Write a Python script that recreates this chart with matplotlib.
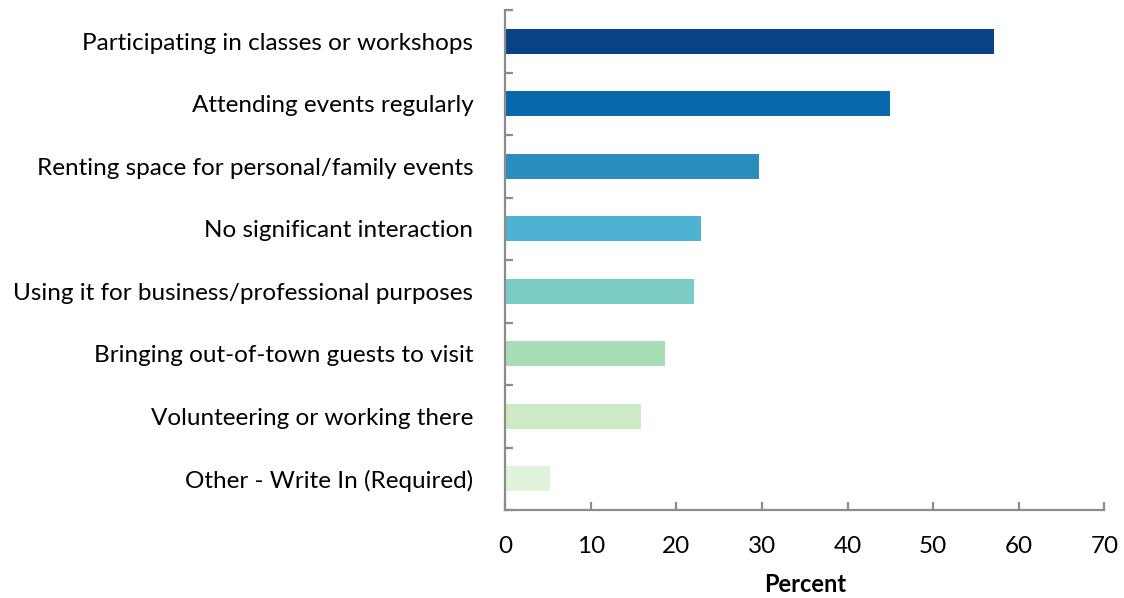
import matplotlib
matplotlib.use("Agg")
import matplotlib.pyplot as plt

categories = [
    "Participating in classes or workshops",
    "Attending events regularly",
    "Renting space for personal/family events",
    "No significant interaction",
    "Using it for business/professional purposes",
    "Bringing out-of-town guests to visit",
    "Volunteering or working there",
    "Other - Write In (Required)",
]
values = [57.1, 45.0, 29.6, 22.9, 22.0, 18.7, 15.9, 5.2]
colors = ["#0A4283", "#0868AC", "#2B8CBE", "#4EB3D3",
          "#7BCCC4", "#A8DDB5", "#CCEBC5", "#E0F3DB"]
x_ticks = [0, 10, 20, 30, 40, 50, 60, 70]

plt.rcParams["font.family"] = ["Lato", "DejaVu Sans"]

fig = plt.figure(figsize=(11.24, 5.98), dpi=100)
ax = fig.add_axes([0.4495, 0.147, 0.533, 0.836])

n = len(categories)
ypos = list(range(n))[::-1]
ax.barh(ypos, values, height=0.4, color=colors)

ax.set_xlim(0, 70)
ax.set_ylim(-0.5, n - 0.5)
ax.set_xticks(x_ticks)
ax.set_xticklabels([str(t) for t in x_ticks])
ax.set_yticks(ypos)
ax.set_yticklabels(categories)
ax.set_yticks([i - 0.5 for i in range(n + 1)], minor=True)

spine_color = "#8C8C8C"
for side in ("top", "right"):
    ax.spines[side].set_visible(False)
for side in ("left", "bottom"):
    ax.spines[side].set_color(spine_color)
    ax.spines[side].set_linewidth(1.6)

ax.tick_params(axis="y", which="major", length=0, pad=23, labelsize=17.5,
               labelcolor="#000000")
ax.tick_params(axis="y", which="minor", direction="in", length=6,
               width=1.6, color=spine_color)
ax.tick_params(axis="x", direction="in", length=6, width=1.6,
               color=spine_color, pad=19, labelsize=17.5)

ax.set_xlabel("Percent", fontsize=17, fontweight="bold", labelpad=11)

fig.savefig("out.png", dpi=100, facecolor="white")
